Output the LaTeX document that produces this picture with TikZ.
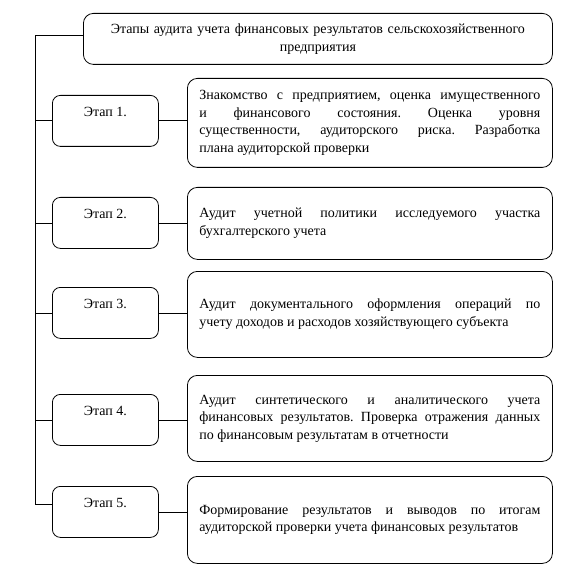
\documentclass[tikz,border=0pt]{standalone}
\usepackage{fontspec}
\setmainfont{Liberation Serif}
\frenchspacing
\usetikzlibrary{positioning}

\begin{document}
\begin{tikzpicture}[
  x=1pt, y=-1pt,
  line width=0.8pt,
  headbox/.style={
    draw,
    rounded corners=10pt,
    anchor=north west,
    minimum width=469pt,
    minimum height=51pt,
    text width=445pt,
    align=center,
    font=\rmfamily\fontsize{14}{18}\selectfont
  },
  stagebox/.style={
    draw,
    rounded corners=8pt,
    anchor=north west,
    minimum width=106pt,
    minimum height=51pt,
    inner sep=0pt,
    text height=10pt,
    text depth=18pt,
    font=\rmfamily\fontsize{14}{17}\selectfont
  },
  descbox/.style={
    draw,
    rounded corners=10pt,
    anchor=north west,
    minimum width=365pt,
    text width=341pt,
    inner xsep=12pt,
    align=justify,
    font=\rmfamily\fontsize{14}{17.5}\selectfont
  }
]
\useasboundingbox (0,0) rectangle (565,569);

% title
\node[headbox] (ttl) at (83,13)
  {Этапы аудита учета финансовых результатов сельскохозяйственного\\ предприятия};

% stages
\node[stagebox] (e1) at (52,95)  {Этап 1.};
\node[stagebox] (e2) at (52,197) {Этап 2.};
\node[stagebox] (e3) at (52,287) {Этап 3.};
\node[stagebox] (e4) at (52,394) {Этап 4.};
\node[stagebox] (e5) at (52,486) {Этап 5.};

% descriptions
\node[descbox,minimum height=89pt] (d1) at (187,78)
  {Знакомство с предприятием, оценка имущественного\linebreak
   и финансового состояния. Оценка уровня\linebreak
   существенности, аудиторского риска. Разработка\linebreak
   плана аудиторской проверки};
\node[descbox,minimum height=72pt] (d2) at (187,187)
  {Аудит учетной политики исследуемого участка\linebreak
   бухгалтерского учета};
\node[descbox,minimum height=86pt] (d3) at (187,271)
  {Аудит документального оформления операций по\linebreak
   учету доходов и расходов хозяйствующего субъекта};
\node[descbox,minimum height=86pt] (d4) at (187,375)
  {Аудит синтетического и аналитического учета\linebreak
   финансовых результатов. Проверка отражения данных\linebreak
   по финансовым результатам в отчетности};
\node[descbox,minimum height=87pt] (d5) at (187,476)
  {Формирование результатов и выводов по итогам\linebreak
   аудиторской проверки учета финансовых результатов};

% spine
\coordinate (top) at (35.5,35);
\coordinate (bot) at (35.5,504);
\draw (top -| ttl.west) -- (top) -- (bot) -- (bot -| e5.west);

\foreach \i in {1,...,4} {
  \draw (top |- e\i.west) -- (e\i.west);
}
\foreach \i in {1,...,5} {
  \draw (e\i.east) -- (d\i.west |- e\i.east);
}
\end{tikzpicture}
\end{document}
